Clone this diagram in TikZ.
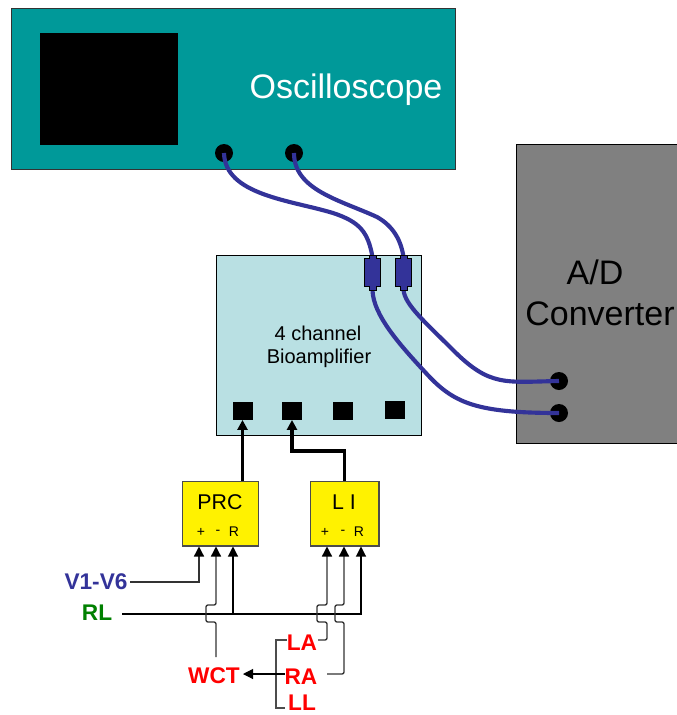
\documentclass[tikz,border=0pt]{standalone}
\usepackage{fontspec}
\setmainfont{Liberation Sans}
\usepackage{xcolor}
\usetikzlibrary{arrows.meta}
\definecolor{scopeteal}{HTML}{009999}
\definecolor{ampblue}{HTML}{B9E0E3}
\definecolor{cableblue}{HTML}{333399}
\definecolor{labelgreen}{HTML}{008000}
\tikzset{
  jack/.style={circle,fill=black,inner sep=0pt,minimum size=13.5pt},
  socket/.style={rectangle,fill=black,inner sep=0pt,minimum width=15pt,minimum height=13pt},
  leadbox/.style={rectangle,draw=black!70,fill=yellow,line width=1pt,inner sep=0pt,minimum width=57pt,minimum height=48.5pt},
  cable/.style={cableblue,line width=3.1pt},
  pinline/.style={black!80,line width=1pt,-{Triangle[length=7.5pt,width=7.5pt,color=black]}},
  blackpin/.style={black,line width=0.8pt,-{Triangle[length=7.5pt,width=7.5pt]}},
  wire/.style={black!70,line width=1.1pt},
  outline/.style={black,line width=2.4pt,-{Triangle[length=7.5pt,width=7.5pt]}},
  redlabel/.style={red,font=\fontsize{17}{17}\selectfont\bfseries,inner sep=1pt},
  pinlabel/.style={font=\fontsize{10.5}{10.5}\selectfont,inner sep=0pt}
}
\begin{document}
\begin{tikzpicture}[x=0.75pt,y=-0.75pt]
\useasboundingbox (0,0) rectangle (677,715);

% Draw oscilloscope
\fill[black!80] (11,8) rectangle (456,170);
\fill[scopeteal] (12,9) rectangle (455,169);
\fill[black] (40,33) rectangle (178,145);
\node[white,font=\fontsize{25.5}{25.5}\selectfont,inner sep=0pt] (scopetext) at (346,90) {Oscilloscope};
\node[jack] (scopea) at (224,153) {};
\node[jack] (scopeb) at (294,153) {};

% Draw converter
\draw[black,line width=0.7pt,fill=black!50] (516,144) rectangle (690,443);
\node[font=\fontsize{25.5}{25.5}\selectfont,inner sep=0pt] (adtext) at (595,272) {A/D};
\node[font=\fontsize{25.5}{25.5}\selectfont,inner sep=0pt] (convtext) at (600,314) {Converter};
\node[jack] (adca) at (559,381) {};
\node[jack] (adcb) at (559,413) {};

% Draw amplifier
\draw[black,line width=0.6pt,fill=ampblue] (216,255) rectangle (421,435);
\node[font=\fontsize{15}{15}\selectfont,inner sep=0pt] (amptexta) at (318,333) {4 channel};
\node[font=\fontsize{15}{15}\selectfont,inner sep=0pt] (amptextb) at (319,358) {Bioamplifier};
\node[socket] (socka) at (242.5,411) {};
\node[socket] (sockb) at (292,411) {};
\node[socket] (sockc) at (343,411) {};
\node[socket] (sockd) at (395,410) {};

% Draw cables
\coordinate (pluga) at (372.5,257);
\coordinate (plugb) at (403.5,257);
\coordinate (plugc) at (372.5,290);
\coordinate (plugd) at (403.5,290);
\draw[cable] (scopea.center) .. controls (225,195) and (290,200) .. (333,213) .. controls (360,222) and (368,232) .. (pluga);
\draw[cable] (scopeb.center) .. controls (294,190) and (340,200) .. (377,217) .. controls (393,226) and (401,240) .. (plugb);
\draw[cable] (plugc) .. controls (373,315) and (400,345) .. (425,372) .. controls (453,403) and (475,413) .. (adcb.center);
\draw[cable] (plugd) .. controls (405,305) and (425,322) .. (453,350) .. controls (490,387) and (505,382) .. (adca.center);

% Draw plugs
\foreach \plugx in {372.5,403.5}{
  \fill[cableblue,draw=black,line width=0.6pt] (\plugx-3.5,255) -- (\plugx+3.5,255) -- (\plugx+3.5,258) -- (\plugx+8,258) -- (\plugx+8,286) -- (\plugx+3.5,286) -- (\plugx+3.5,290) -- (\plugx-3.5,290) -- (\plugx-3.5,286) -- (\plugx-8,286) -- (\plugx-8,258) -- (\plugx-3.5,258) -- cycle;
}

% Draw lead boxes
\node[leadbox] (prc) at (220.5,513.5) {};
\node[leadbox,minimum width=51.5pt] (li) at (344.5,513.5) {};
\node[font=\fontsize{16}{16}\selectfont,inner sep=0pt] (prctext) at (220,502) {PRC};
\node[font=\fontsize{16}{16}\selectfont,inner sep=0pt] (litext) at (344,502) {L I};
\node[pinlabel] (prcplus) at (201,532) {+};
\node[pinlabel] (prcminus) at (218,532) {-};
\node[pinlabel] (prcref) at (234,532) {R};
\node[pinlabel] (liplus) at (325,532) {+};
\node[pinlabel] (liminus) at (343,532) {-};
\node[pinlabel] (liref) at (359,532) {R};

% Draw amplifier inputs
\draw[outline] (prc.north -| socka.south) -- (socka.south);
\draw[outline,line join=miter] (li.north) |- (292,451) -- (sockb.south);

% Draw labels
\node[cableblue,font=\fontsize{17}{17}\selectfont\bfseries,inner sep=1pt] (vleads) at (96,582) {V1-V6};
\node[labelgreen,font=\fontsize{17}{17}\selectfont\bfseries,inner sep=1pt] (rl) at (97,613) {RL};
\node[redlabel] (la) at (302,643) {LA};
\node[redlabel] (ra) at (301,677) {RA};
\node[redlabel,inner sep=0pt] (ll) at (302,703) {LL};
\node[redlabel] (wct) at (214,676) {WCT};

% Draw pin wires
\coordinate (pinprca) at (199,546.5);
\coordinate (pinprcb) at (216,546.5);
\coordinate (pinprcc) at (233,546.5);
\coordinate (pinlia) at (327,546.5);
\coordinate (pinlib) at (344,546.5);
\coordinate (pinlic) at (361,546.5);
\coordinate (rlstart) at (122,614);
\coordinate (rljoin) at (233,614);
\coordinate (vstart) at (130,582);
\coordinate (wctstub) at (216,657);
\coordinate (lastub) at (318,640);
\coordinate (rastub) at (327,674);
\coordinate (wctfrom) at (285,674);
\coordinate (wcthead) at (243,674);
\draw[pinline] (vstart) -| (pinprca);
\draw[blackpin] (rlstart) -| (pinlic);
\draw[blackpin] (rljoin) -- (pinprcc);
\draw[pinline,rounded corners=1.5pt] (wctstub) -- (216,622) -- (206,622) -- (206,605) -- (216,605) -- (pinprcb);
\draw[pinline,rounded corners=1.5pt] (lastub) -- (327,640) -- (327,622) -- (317,622) -- (317,605) -- (327,605) -- (pinlia);
\draw[pinline,rounded corners=1.5pt] (rastub) -- (344,674) -- (344,622) -- (335,622) -- (335,605) -- (344,605) -- (pinlib);

% Draw limb leads
\draw[wire] (287,640) -- (276,640) -- (276,708) -- (285,708);
\draw[blackpin] (wctfrom) -- (wcthead);

\end{tikzpicture}
\end{document}
